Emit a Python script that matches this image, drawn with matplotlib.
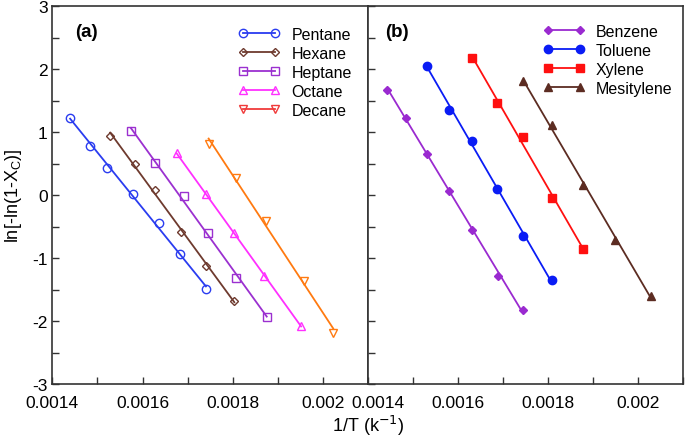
import numpy as np
import matplotlib
matplotlib.use('Agg')
import matplotlib.pyplot as plt
import matplotlib.transforms as mtransforms
from matplotlib.lines import Line2D
from matplotlib.ticker import MultipleLocator

plt.rcParams['font.family'] = ['Liberation Sans', 'DejaVu Sans']
plt.rcParams['axes.unicode_minus'] = False

# panel (a): alkanes
pentane_x = [0.0014393, 0.0014837, 0.0015222, 0.0015785, 0.0016356, 0.0016822, 0.0017407]
pentane_y = [1.229, 0.780, 0.436, 0.024, -0.447, -0.937, -1.498]
hexane_x = [0.0015281, 0.0015844, 0.0016281, 0.0016852, 0.0017407, 0.0018037]
hexane_y = [0.938, 0.494, 0.077, -0.595, -1.123, -1.678]
heptane_x = [0.0015741, 0.0016281, 0.0016911, 0.0017459, 0.0018074, 0.0018756]
heptane_y = [1.023, 0.515, -0.013, -0.610, -1.316, -1.929]
octane_x = [0.0016756, 0.0017400, 0.0018037, 0.0018689, 0.0019519]
octane_y = [0.663, 0.024, -0.605, -1.282, -2.075]
decane_x = [0.0017467, 0.0018074, 0.0018748, 0.0019578, 0.0020230]
decane_y = [0.816, 0.267, -0.420, -1.361, -2.196]

# panel (b): aromatics
benzene_x = [0.0014436, 0.0014857, 0.0015323, 0.0015803, 0.0016320, 0.0016882, 0.0017443]
benzene_y = [1.662, 1.223, 0.658, 0.061, -0.552, -1.281, -1.820]
toluene_x = [0.0015323, 0.0015803, 0.0016313, 0.0016874, 0.0017450, 0.0018078]
toluene_y = [2.053, 1.356, 0.864, 0.092, -0.658, -1.351]
xylene_x = [0.0016320, 0.0016874, 0.0017443, 0.0018078, 0.0018780]
xylene_y = [2.175, 1.467, 0.917, -0.055, -0.853]
mesitylene_x = [0.0017443, 0.0018078, 0.0018780, 0.0019489, 0.0020287]
mesitylene_y = [1.810, 1.118, 0.161, -0.711, -1.609]


def fit_line(ax, x, y, color, marker, filled, ms, lw=1.3):
    x = np.array(x)
    y = np.array(y)
    k, b = np.polyfit(x, y, 1)
    xs = np.array([x.min(), x.max()])
    ax.plot(xs, k * xs + b, color=color, lw=lw, zorder=2)
    ax.plot(x, y, ls='none', marker=marker, ms=ms, mec=color,
            mfc=color if filled else 'none', mew=1.0, zorder=3)


def style_axis(ax, left_labels=True):
    ax.set_xlim(0.0014, 0.0021)
    ax.set_ylim(-3, 3)
    ax.xaxis.set_major_locator(MultipleLocator(0.0002))
    ax.xaxis.set_minor_locator(MultipleLocator(0.0001))
    ax.yaxis.set_major_locator(MultipleLocator(1))
    ax.yaxis.set_minor_locator(MultipleLocator(0.5))
    ax.tick_params(which='both', direction='in', length=5, width=1.0,
                   colors='#333333', labelcolor='black', labelsize=12.5)
    ax.tick_params(axis='x', pad=8)
    ax.set_xticks([0.0014, 0.0016, 0.0018, 0.002])
    ax.set_xticklabels(['0.0014', '0.0016', '0.0018', '0.002'])
    if not left_labels:
        ax.tick_params(axis='y', labelleft=False)
    for s in ax.spines.values():
        s.set_color('#333333')
        s.set_linewidth(1.2)


fig = plt.figure(figsize=(6.85, 4.39), dpi=100)
ax1 = fig.add_axes([0.0765, 0.123, 0.4605, 0.861])
ax2 = fig.add_axes([0.537, 0.123, 0.4605, 0.861])

fit_line(ax1, pentane_x, pentane_y, '#2a3cf0', 'o', False, 6)
fit_line(ax1, hexane_x, hexane_y, '#6e3a2e', 'D', False, 4.5)
fit_line(ax1, heptane_x, heptane_y, '#9b30d0', 's', False, 6)
fit_line(ax1, octane_x, octane_y, '#ff30ff', '^', False, 6)
fit_line(ax1, decane_x, decane_y, '#ff7a10', 'v', False, 6)

fit_line(ax2, benzene_x, benzene_y, '#9a2ad0', 'D', True, 4.5)
fit_line(ax2, toluene_x, toluene_y, '#0a1cf5', 'o', True, 6)
fit_line(ax2, xylene_x, xylene_y, '#ff1010', 's', True, 5.5)
fit_line(ax2, mesitylene_x, mesitylene_y, '#5c2c22', '^', True, 5.5)

style_axis(ax1)
style_axis(ax2, left_labels=False)
ax1.set_ylabel('ln[-ln(1-X$_\\mathregular{C}$)]', fontsize=13, labelpad=6)

# nudge first label of panel (b) so it does not sit on top of 0.002
shift = mtransforms.ScaledTranslation(10 / 100, 0, fig.dpi_scale_trans)
first_lbl = ax2.get_xticklabels()[0]
first_lbl.set_transform(first_lbl.get_transform() + shift)

ax1.text(0.072, 0.932, '(a)', transform=ax1.transAxes, fontsize=13.5,
         fontweight='bold', va='center')
ax2.text(0.055, 0.932, '(b)', transform=ax2.transAxes, fontsize=13.5,
         fontweight='bold', va='center')

names_a = ['Pentane', 'Hexane', 'Heptane', 'Octane', 'Decane']
styles_a = [('#2a3cf0', 'o', 'none', 6), ('#6e3a2e', 'D', 'none', 4.5),
            ('#9b30d0', 's', 'none', 6), ('#ff30ff', '^', 'none', 6),
            ('#f03a3a', 'v', 'none', 6)]
handles_a = [Line2D([0], [0], color=c, marker=m, mfc=f, mec=c, ms=ms, lw=1.3)
             for c, m, f, ms in styles_a]
ax1.legend(handles_a, names_a, loc='upper left', bbox_to_anchor=(0.555, 0.975),
           frameon=False, fontsize=11.5, numpoints=2, handlelength=2.6,
           handletextpad=0.7, labelspacing=0.25, borderpad=0.2)

names_b = ['Benzene', 'Toluene', 'Xylene', 'Mesitylene']
styles_b = [('#9a2ad0', 'D', 4.5), ('#0a1cf5', 'o', 6),
            ('#ff1010', 's', 5.5), ('#5c2c22', '^', 5.5)]
handles_b = [Line2D([0], [0], color=c, marker=m, mfc=c, mec=c, ms=ms, lw=1.3)
             for c, m, ms in styles_b]
ax2.legend(handles_b, names_b, loc='upper left', bbox_to_anchor=(0.52, 0.982),
           frameon=False, fontsize=11.5, numpoints=2, handlelength=2.6,
           handletextpad=0.7, labelspacing=0.25, borderpad=0.2)

fig.text(0.537, 0.03, '1/T (k$^{-1}$)', ha='center', va='center', fontsize=13)

fig.savefig('out.png', dpi=100)
